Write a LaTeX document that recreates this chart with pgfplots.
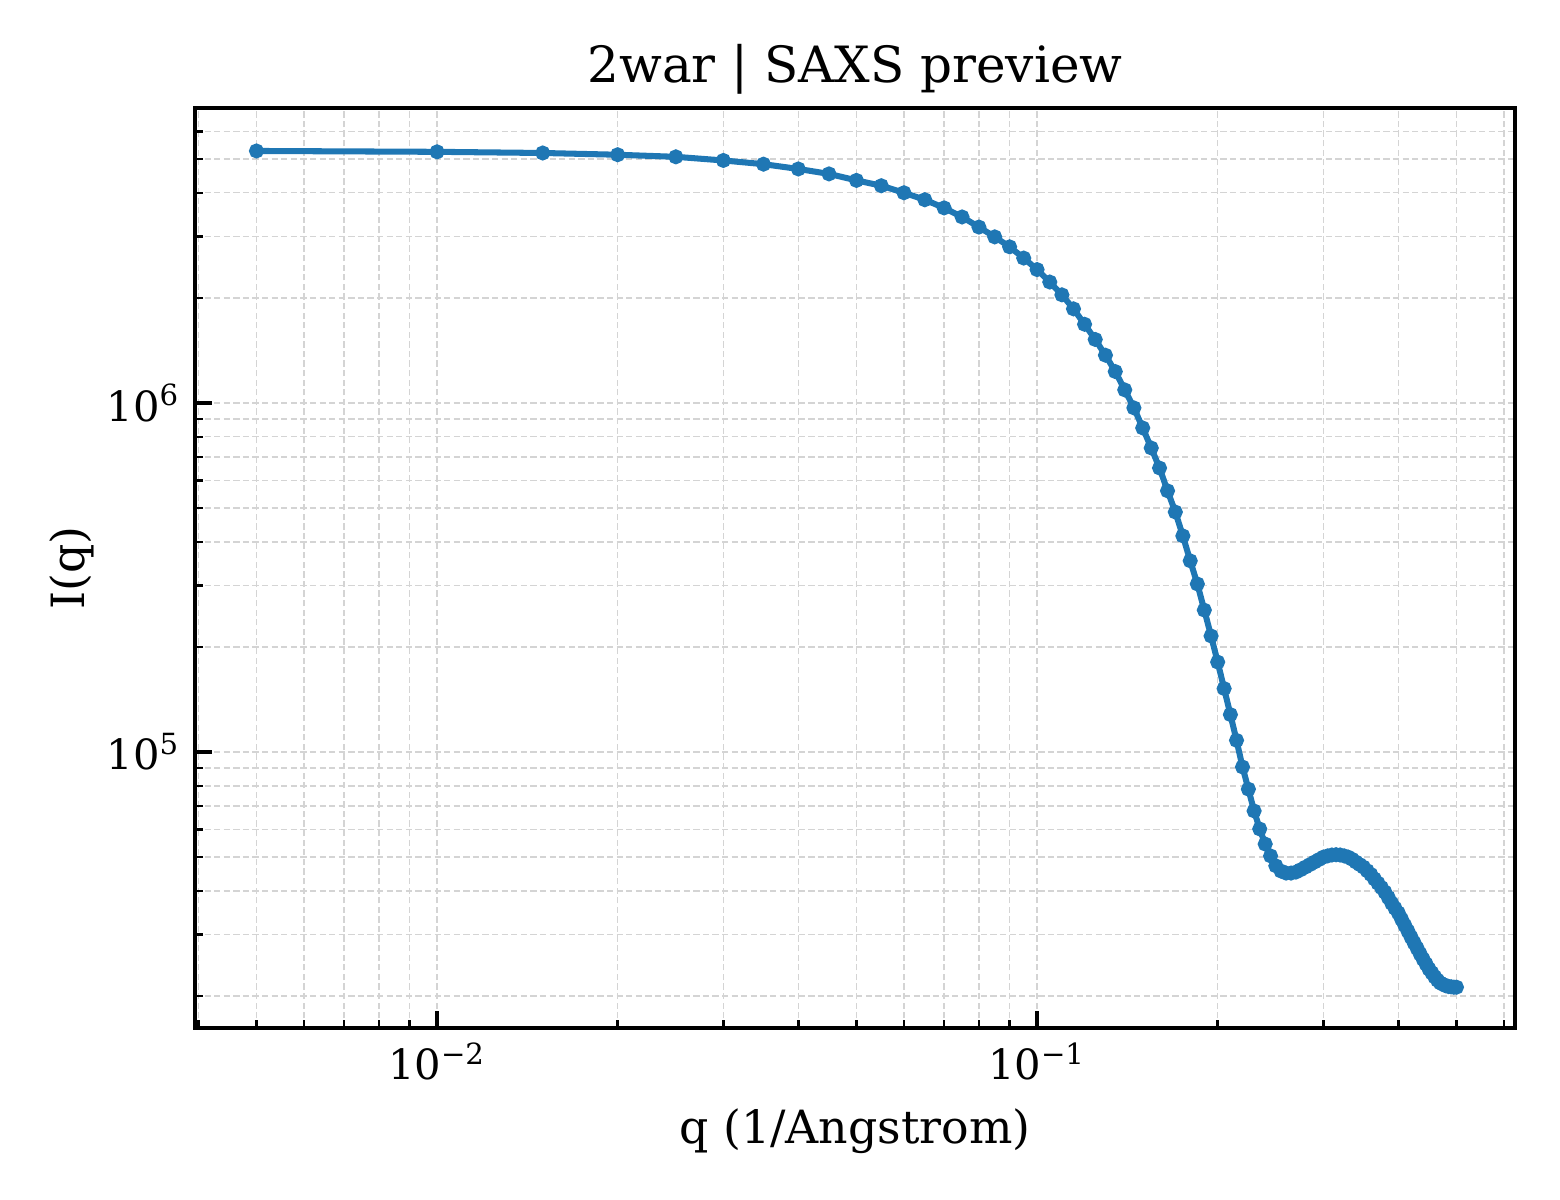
\documentclass[border=0pt]{standalone}
\usepackage{pgfplots}
\pgfplotsset{compat=1.18}
\usepackage{fontspec}
\setmainfont{DejaVu Serif}
\definecolor{mplblue}{HTML}{1F77B4}

\pgfplotstableread{
q I
0.005 5.27e6
0.010 5.24e6
0.015 5.20e6
0.020 5.14e6
0.025 5.07e6
0.030 4.95e6
0.035 4.83e6
0.040 4.68e6
0.045 4.53e6
0.050 4.34e6
0.055 4.19e6
0.060 4.00e6
0.065 3.82e6
0.070 3.62e6
0.075 3.41e6
0.080 3.19e6
0.085 2.99e6
0.090 2.80e6
0.095 2.60e6
0.100 2.41e6
0.105 2.22e6
0.110 2.04e6
0.115 1.86e6
0.120 1.68e6
0.125 1.52e6
0.130 1.37e6
0.135 1.23e6
0.140 1.09e6
0.145 9.68e5
0.150 8.48e5
0.155 7.43e5
0.160 6.51e5
0.165 5.60e5
0.170 4.87e5
0.175 4.16e5
0.180 3.53e5
0.185 3.03e5
0.190 2.55e5
0.195 2.15e5
0.200 1.81e5
0.205 1.52e5
0.210 1.28e5
0.215 1.08e5
0.220 9.06e4
0.225 7.83e4
0.230 6.78e4
0.235 6.02e4
0.240 5.45e4
0.245 5.04e4
0.250 4.72e4
0.255 4.56e4
0.260 4.50e4
0.265 4.50e4
0.270 4.53e4
0.275 4.60e4
0.280 4.68e4
0.285 4.76e4
0.290 4.84e4
0.295 4.92e4
0.300 5.00e4
0.305 5.04e4
0.310 5.07e4
0.315 5.08e4
0.320 5.07e4
0.325 5.04e4
0.330 5.00e4
0.335 4.93e4
0.340 4.84e4
0.345 4.76e4
0.350 4.68e4
0.355 4.57e4
0.360 4.46e4
0.365 4.33e4
0.370 4.21e4
0.375 4.09e4
0.380 3.97e4
0.385 3.83e4
0.390 3.69e4
0.395 3.57e4
0.400 3.46e4
0.405 3.32e4
0.410 3.19e4
0.415 3.07e4
0.420 2.95e4
0.425 2.84e4
0.430 2.74e4
0.435 2.64e4
0.440 2.55e4
0.445 2.47e4
0.450 2.39e4
0.455 2.33e4
0.460 2.27e4
0.465 2.22e4
0.470 2.18e4
0.475 2.16e4
0.480 2.14e4
0.485 2.13e4
0.490 2.125e4
0.495 2.12e4
0.500 2.12e4
}\saxs

\begin{document}
\begin{tikzpicture}
% 1 px of the reference = 0.24pt
\useasboundingbox (0,0) rectangle (374.4pt,288pt);
\begin{axis}[
    at={(46.8pt,41.28pt)}, anchor=south west,
    scale only axis,
    width=316.8pt, height=220.8pt,
    xmode=log, ymode=log,
    xmin=0.00395, xmax=0.626,
    ymin=1.62e4, ymax=7.0e6,
    xtick={0.01,0.1},
    xticklabels={10\textsuperscript{−2},10\textsuperscript{−1}},
    ytick={1e5,1e6},
    yticklabels={10\textsuperscript{5},10\textsuperscript{6}},
    minor xtick={0.004,0.005,0.006,0.007,0.008,0.009,0.02,0.03,0.04,0.05,0.06,0.07,0.08,0.09,0.2,0.3,0.4,0.5,0.6},
    minor ytick={2e4,3e4,4e4,5e4,6e4,7e4,8e4,9e4,2e5,3e5,4e5,5e5,6e5,7e5,8e5,9e5,2e6,3e6,4e6,5e6,6e6,7e6},
    tick align=inside,
    xtick pos=bottom, ytick pos=left,
    major tick length=4pt, minor tick length=2pt,
    tick style={black, line width=0.8pt},
    minor tick style={black, line width=0.6pt},
    axis line style={line width=1pt},
    grid=both,
    major grid style={black!17, line width=0.35pt, dash pattern=on 1.5pt off 0.8pt},
    minor grid style={black!17, line width=0.35pt, dash pattern=on 1.5pt off 0.8pt},
    tick label style={font=\fontsize{10}{12}\selectfont},
    xlabel={q (1/Angstrom)},
    ylabel={I(q)},
    label style={font=\fontsize{11}{13}\selectfont},
    ylabel style={at={(axis description cs:-0.093,0.5)}, anchor=center},
    title={2war | SAXS preview},
    title style={font=\fontsize{12}{14}\selectfont, at={(axis description cs:0.5,1.015)}, anchor=center},
]
\addplot[mplblue, line width=1.45pt, mark=*, mark size=1.05pt] table[x=q, y=I] {\saxs};
\end{axis}
\end{tikzpicture}
\end{document}
